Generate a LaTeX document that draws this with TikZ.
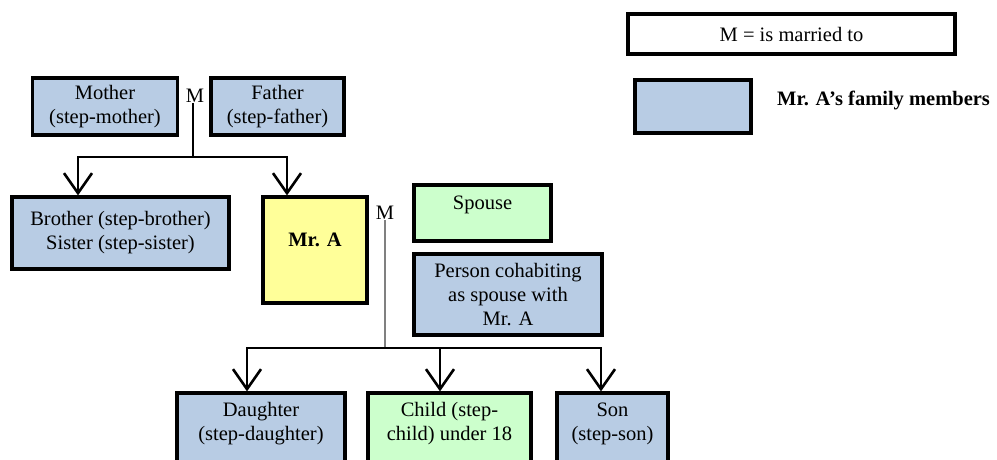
\documentclass[tikz,border=0pt]{standalone}
\usepackage{fontspec}
\setmainfont{Liberation Serif}
\usetikzlibrary{arrows.meta}
\definecolor{famblue}{RGB}{184,204,228}
\definecolor{spgreen}{RGB}{204,255,204}
\definecolor{mryellow}{RGB}{255,255,153}
\tikzset{
  box/.style={draw,line width=3.2pt,inner sep=0pt},
  fam/.style={box,fill=famblue},
  txt/.style={align=center,inner sep=0pt},
  tree/.style={line width=2.6pt},
  arr/.style={tree,-{Straight Barb[length=20pt,width=28pt,line width=2.6pt]}},
}
\begin{document}
\begin{tikzpicture}[x=1pt,y=-1pt,font=\fontsize{20.5}{24}\selectfont]
  \clip (0,0) rectangle (997,460);
  % legend
  \node[box,fill=white,minimum width=327,minimum height=40] (legm) at (791.5,34) {M = is married to};
  \node[fam,minimum width=116,minimum height=53] (legb) at (693,106.5) {};
  \node[txt,anchor=west,font=\fontsize{20.5}{24}\selectfont\bfseries] (legt) at (777,100) {Mr. A’s family members};

  \node[fam,minimum width=145,minimum height=57,align=center] (mother) at (105,106.5) {Mother\\(step-mother)};
  \node[txt] (m1) at (195,96) {M};
  \node[fam,minimum width=133,minimum height=57,align=center] (father) at (277.5,106.5) {Father\\(step-father)};

  \node[fam,minimum width=217,minimum height=72,align=center] (brother) at (120.5,233) {Brother (step-brother)\\Sister (step-sister)};
  \node[box,fill=mryellow,minimum width=104,minimum height=106] (mra) at (315,250) {};
  \node[txt,font=\fontsize{20.5}{24}\selectfont\bfseries] (mratxt) at (315,240) {Mr. A};
  \node[txt] (m2) at (385,213) {M};
  \node[box,fill=spgreen,minimum width=137,minimum height=56] (spouse) at (482.5,213) {};
  \node[txt] (spousetxt) at (482.5,205) {Spouse};
  \node[fam,minimum width=188,minimum height=81,align=center] (cohab) at (508,294.5) {Person cohabiting\\as spouse with\\Mr. A};

  \node[fam,minimum width=168,minimum height=100] (daughter) at (261,443) {};
  \node[txt] (daughtertxt) at (261,424) {Daughter\\(step-daughter)};
  \node[box,fill=spgreen,minimum width=163,minimum height=100] (child) at (449.5,443) {};
  \node[txt] (childtxt) at (449.5,424) {Child (step-\\child) under 18};
  \node[fam,minimum width=111,minimum height=100] (son) at (612.5,443) {};
  \node[txt] (sontxt) at (612.5,424) {Son\\(step-son)};

  \coordinate (j1) at (193,157);
  \coordinate (j2) at (385,348);
  \draw[tree] (m1.south -| j1) -- (j1);
  \draw[arr] (j1) -| (brother.north -| 78,0);
  \draw[arr] (j1) -| (mra.north -| 287,0);
  \draw[line width=2.4pt,gray] (m2.south) -- (j2);
  \draw[arr] (j2) -| (daughter.north -| 247,0);
  \draw[arr] (j2) -| (child.north -| 440,0);
  \draw[arr] (j2) -| (son.north -| 601,0);
\end{tikzpicture}
\end{document}
